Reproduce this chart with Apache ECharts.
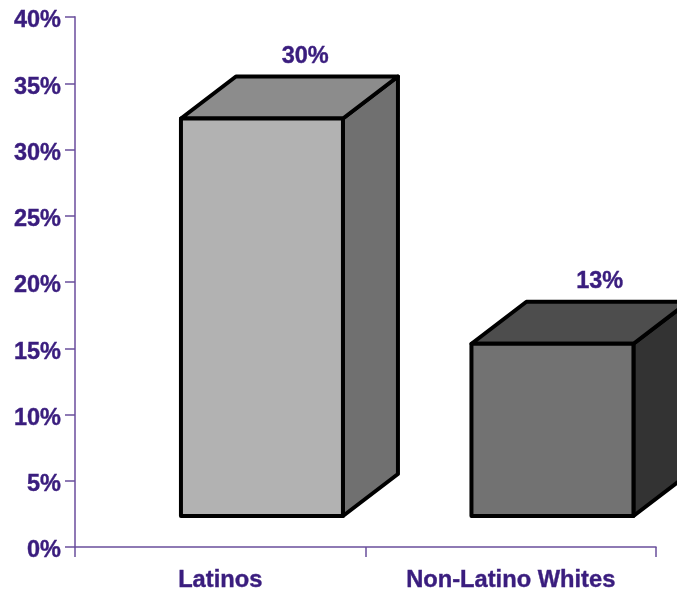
<!DOCTYPE html>
<html>
<head>
<meta charset="utf-8">
<style>html,body{margin:0;padding:0;background:#fff}#c{width:677px;height:591px}</style>
<script src="https://cdn.jsdelivr.net/npm/echarts@6/dist/echarts.min.js"></script>
</head>
<body>
<div id="c"></div>
<script>
const categories = ['Latinos', 'Non-Latino Whites'];
const values = [30, 13];
const yTickMax = 40;
const yTickStep = 5;

const INK = '#3a1d7e';
const FONT = '"Liberation Sans", Arial, sans-serif';
const faces = [
  { front: '#b2b2b2', side: '#707070', top: '#8c8c8c' },
  { front: '#727272', side: '#333333', top: '#4d4d4d' }
];
const labelNudge = [85, 89];
const FLOOR = 31, DX = 55, DY = 42, WIDTH = 162, LEFT = 39.3;

const chart = echarts.init(document.getElementById('c'), null, { renderer: 'canvas' });

function renderBar(params, api) {
  const i = params.dataIndex;
  const v = api.value(1);
  const base = api.coord([i, 0]);
  const head = api.coord([i, v]);
  const x0 = base[0] - LEFT, x1 = x0 + WIDTH;
  const yb = base[1] - FLOOR, yt = head[1] - FLOOR;
  const c = faces[i];
  const st = { stroke: '#000', lineWidth: 4, lineJoin: 'round' };
  const poly = (pts, fill) => ({
    type: 'polygon',
    shape: { points: pts },
    style: Object.assign({ fill }, st)
  });
  return {
    type: 'group',
    children: [
      poly([[x1, yb], [x1 + DX, yb - DY], [x1 + DX, yt - DY], [x1, yt]], c.side),
      poly([[x0, yt], [x0 + DX, yt - DY], [x1 + DX, yt - DY], [x1, yt]], c.top),
      poly([[x0, yb], [x1, yb], [x1, yt], [x0, yt]], c.front),
      {
        type: 'text',
        style: {
          x: base[0] + labelNudge[i],
          y: yt - DY - 20,
          text: v + '%',
          fill: INK,
          stroke: INK,
          lineWidth: 0.4,
          font: 'bold 23.5px ' + FONT,
          align: 'center',
          verticalAlign: 'middle'
        }
      }
    ]
  };
}

chart.setOption({
  animation: false,
  backgroundColor: '#fff',
  grid: { left: 75, right: 21, top: 17, bottom: 44, containLabel: false, outerBoundsMode: 'none' },
  xAxis: {
    type: 'category',
    data: categories,
    axisLine: { lineStyle: { color: '#6a4f9c', width: 1.5 } },
    axisTick: { show: true, length: 10, alignWithLabel: false, lineStyle: { color: '#6a4f9c', width: 1.5 } },
    axisLabel: { color: INK, textBorderColor: INK, textBorderWidth: 0.4, fontFamily: FONT, fontWeight: 'bold', fontSize: 23.7, margin: 21, interval: 0 }
  },
  yAxis: {
    type: 'value',
    min: 0,
    max: yTickMax,
    interval: yTickStep,
    splitLine: { show: false },
    axisLine: { show: true, lineStyle: { color: '#8f78b5', width: 2 } },
    axisTick: { show: true, length: 10, lineStyle: { color: '#6a4f9c', width: 1.5 } },
    axisLabel: { color: INK, textBorderColor: INK, textBorderWidth: 0.4, fontFamily: FONT, fontWeight: 'bold', fontSize: 23.5, margin: 14, verticalAlign: 'top', lineHeight: 8, formatter: '{value}%' }
  },
  series: [{
    type: 'custom',
    clip: false,
    coordinateSystem: 'cartesian2d',
    encode: { x: 0, y: 1 },
    data: categories.map((c, i) => [i, values[i]]),
    renderItem: renderBar
  }]
});
</script>
</body>
</html>
